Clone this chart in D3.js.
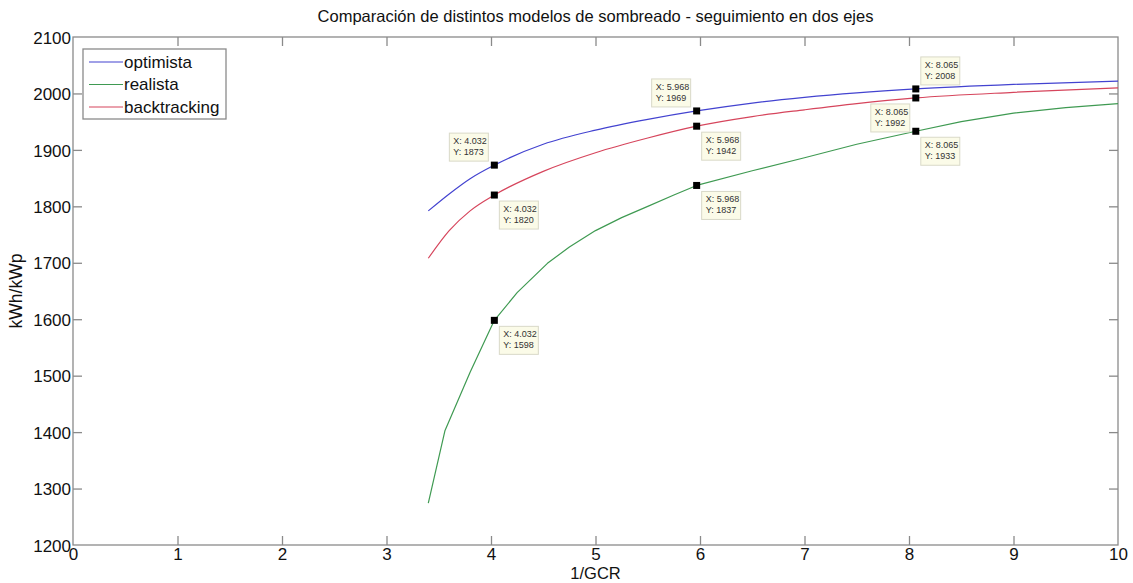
<!DOCTYPE html>
<html><head><meta charset="utf-8">
<script src="https://cdn.jsdelivr.net/npm/d3@7"></script>
<style>
body{margin:0;background:#fff;}
svg{display:block;font-family:"Liberation Sans",Arial,sans-serif;}
</style></head>
<body>
<svg id="chart" width="1133" height="583"></svg>
<script>
// ---- data ----
const seriesNames = ["optimista", "realista", "backtracking"];
const seriesColors = ["#4343d0", "#3f9a52", "#d6455c"];
const xOptimista = [3.4, 3.6, 3.8, 4.032, 4.5, 5, 5.5, 5.968, 6.5, 7, 7.5, 8.065, 9, 10];
const yOptimista = [1792, 1822, 1849, 1873, 1910, 1935, 1954, 1969, 1983, 1993, 2001, 2008, 2016, 2022];
const xBacktracking = [3.4, 3.6, 3.8, 4.032, 4.5, 5, 5.5, 5.968, 6.5, 7, 7.5, 8.065, 9, 10];
const yBacktracking = [1708, 1757, 1792, 1820, 1862, 1895, 1921, 1942, 1959, 1971, 1982, 1992, 2002, 2010];
const xRealista = [3.4, 3.56, 3.8, 4.032, 4.25, 4.54, 4.75, 5, 5.25, 5.5, 5.75, 5.968, 6.5, 7, 7.5, 8.065, 8.5, 9, 9.5, 10];
const yRealista = [1274, 1403, 1506, 1598, 1647, 1699, 1728, 1757, 1780, 1800, 1820, 1837, 1863, 1886, 1910, 1933, 1950, 1965, 1975, 1982];
const tipX = [4.032, 4.032, 4.032, 5.968, 5.968, 5.968, 8.065, 8.065, 8.065];
const tipY = [1873, 1820, 1598, 1969, 1942, 1837, 2008, 1992, 1933];
const tipLabelX = ["4.032","4.032","4.032","5.968","5.968","5.968","8.065","8.065","8.065"];
const xTicks = [0,1,2,3,4,5,6,7,8,9,10];
const yTicks = [1200,1300,1400,1500,1600,1700,1800,1900,2000,2100];
const titleText = "Comparación de distintos modelos de sombreado - seguimiento en dos ejes";
const xLabel = "1/GCR";
const yLabel = "kWh/kWp";

// ---- layout ----
const svg = d3.select("#chart");
const L = 73, R = 1118, T = 37, B = 545;
const x = d3.scaleLinear().domain([0,10]).range([L,R]);
const y = d3.scaleLinear().domain([1200,2100]).range([B,T]);
const axisColor = "#8a8a8a";
const tickLen = 9;

// box
svg.append("rect").attr("x",L).attr("y",T).attr("width",R-L).attr("height",B-T)
  .attr("fill","#fff").attr("stroke",axisColor).attr("stroke-width",1.3);

// axes
const fmt = d3.format("d");
const gx = svg.append("g").attr("transform",`translate(0,${B})`)
  .call(d3.axisBottom(x).tickValues(xTicks).tickSize(-tickLen).tickPadding(2).tickFormat(fmt));
const gxt = svg.append("g").attr("transform",`translate(0,${T})`)
  .call(d3.axisTop(x).tickValues(xTicks).tickSize(-tickLen).tickFormat(""));
const gy = svg.append("g").attr("transform",`translate(${L},0)`)
  .call(d3.axisLeft(y).tickValues(yTicks).tickSize(-tickLen).tickPadding(2).tickFormat(fmt));
const gyr = svg.append("g").attr("transform",`translate(${R},0)`)
  .call(d3.axisRight(y).tickValues(yTicks).tickSize(-tickLen).tickFormat(""));
[gx,gxt,gy,gyr].forEach(g=>{
  g.select(".domain").remove();
  g.selectAll(".tick line").attr("stroke",axisColor).attr("stroke-width",1.3);
  g.selectAll(".tick text").attr("fill","#111").style("font-size","17px")
   .style("font-family",'"Liberation Sans",Arial,sans-serif');
});
gx.selectAll(".tick text").attr("dy","0.78em");
gy.selectAll(".tick text").attr("dy","0.36em");
gx.selectAll(".tick").filter(d=>d===0||d===10).select("line").remove();
gxt.selectAll(".tick").filter(d=>d===0||d===10).select("line").remove();
gy.selectAll(".tick").filter(d=>d===1200||d===2100).select("line").remove();
gyr.selectAll(".tick").filter(d=>d===1200||d===2100).select("line").remove();

// title & labels
svg.append("text").attr("x",(L+R)/2).attr("y",22).attr("text-anchor","middle")
  .style("font-size","16.5px").attr("fill","#111").text(titleText);
svg.append("text").attr("x",(L+R)/2).attr("y",579).attr("text-anchor","middle")
  .style("font-size","16.5px").attr("fill","#111").text(xLabel);
svg.append("text").attr("transform",`translate(22,${(T+B)/2}) rotate(-90)`).attr("text-anchor","middle")
  .style("font-size","17.5px").attr("fill","#111").text(yLabel);

// lines
const lineSmooth = d3.line().x(d=>x(d[0])).y(d=>y(d[1])).curve(d3.curveMonotoneX);
const lineLin = d3.line().x(d=>x(d[0])).y(d=>y(d[1])).curve(d3.curveLinear);
const series = [
  {xs:xOptimista, ys:yOptimista, c:seriesColors[0], gen:lineSmooth},
  {xs:xRealista, ys:yRealista, c:seriesColors[1], gen:lineLin},
  {xs:xBacktracking, ys:yBacktracking, c:seriesColors[2], gen:lineSmooth}
];
series.forEach(s=>{
  const pts = s.xs.map((v,i)=>[v,s.ys[i]]);
  svg.append("path").datum(pts).attr("d",s.gen).attr("fill","none")
    .attr("stroke",s.c).attr("stroke-width",1.2).attr("stroke-linejoin","round");
});

// data tips
const tipPlace = ["ul","lr","lr","ul","lr","lr","ur","ll","lr"];
const bw = 39, bh = 28;
tipX.forEach((tx,i)=>{
  const px = x(tx), py = y(tipY[i]);
  const p = tipPlace[i];
  const bx = p[1]==="l" ? px - 6 - bw : px + 5;
  const by = p[0]==="u" ? py - 4 - bh : py + 6;
  const g = svg.append("g");
  g.append("rect").attr("x",bx).attr("y",by).attr("width",bw).attr("height",bh)
    .attr("fill","#fbfbe8").attr("stroke","#d9d9c8").attr("stroke-width",1);
  g.append("text").attr("x",bx+4).attr("y",by+11).style("font-size","9px").attr("fill","#333")
    .text("X: "+tipLabelX[i]);
  g.append("text").attr("x",bx+4).attr("y",by+22).style("font-size","9px").attr("fill","#333")
    .text("Y: "+tipY[i]);
  svg.append("rect").attr("x",px-3.5).attr("y",py-3.5).attr("width",7).attr("height",7).attr("fill","#000");
});

// legend
const lg = svg.append("g");
lg.append("rect").attr("x",83).attr("y",49).attr("width",143).attr("height",70)
  .attr("fill","#fff").attr("stroke",axisColor).attr("stroke-width",1.3);
seriesNames.forEach((n,i)=>{
  const yy = 62 + i*22.5;
  lg.append("line").attr("x1",89).attr("x2",123).attr("y1",yy).attr("y2",yy)
    .attr("stroke",seriesColors[i]).attr("stroke-width",1.2);
  lg.append("text").attr("x",124).attr("y",yy+5.5).style("font-size","17px").attr("fill","#111").text(n);
});
</script>
</body></html>
